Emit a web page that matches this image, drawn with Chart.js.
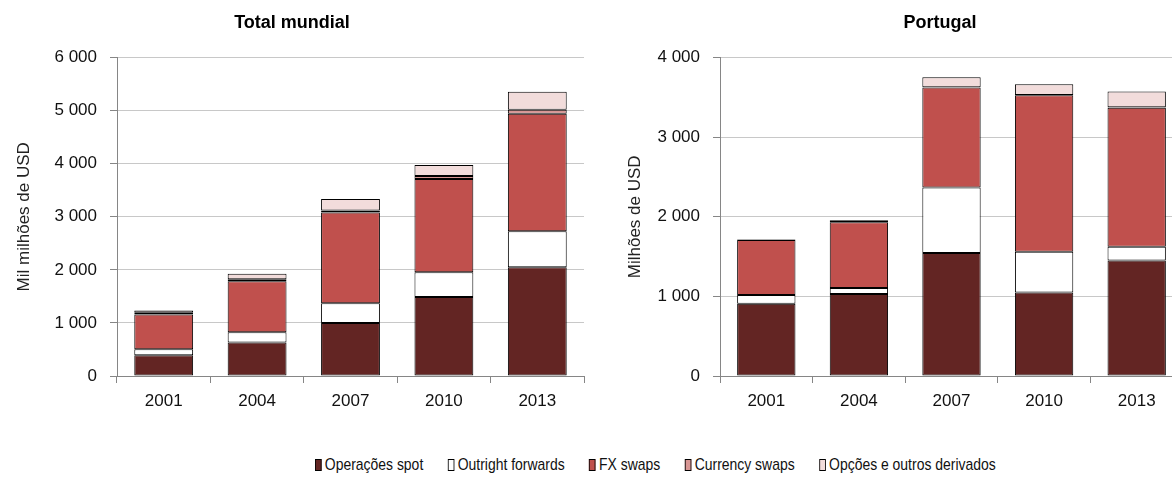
<!DOCTYPE html>
<html>
<head>
<meta charset="utf-8">
<script src="https://cdn.jsdelivr.net/npm/chart.js@4/dist/chart.umd.min.js"></script>
<style>
  html, body { margin: 0; padding: 0; background: #fff; overflow: hidden; }
  #wrap { position: relative; width: 1172px; height: 478px; overflow: hidden; }
  #c1 { position: absolute; left: 0; top: 0; }
  #c2 { position: absolute; left: 600px; top: 0; }
  #legend {
    position: absolute; left: 315px; top: 455px; display: flex; align-items: center; white-space: nowrap;
    font-family: 'Liberation Sans', Arial, sans-serif; font-size: 17px; color: #111;
    transform: scaleX(0.82); transform-origin: left center;
  }
  #legend .item { display: flex; align-items: center; margin-right: 30px; }
  #legend .box { width: 6px; height: 10px; border: 1px solid #000; margin-right: 4px; }
</style>
</head>
<body>
<div id="wrap">
  <canvas id="c1" width="600" height="430"></canvas>
  <canvas id="c2" width="680" height="430"></canvas>
  <div id="legend"></div>
</div>
<script>
// categorias e séries
const years = ['2001', '2004', '2007', '2010', '2013'];
const seriesNames = ['Operações spot', 'Outright forwards', 'FX swaps', 'Currency swaps', 'Opções e outros derivados'];
const seriesColors = ['#632523', '#ffffff', '#c0504d', '#d99694', '#f2dcdb'];

// Total mundial (mil milhões de USD)
const worldSpot = [390, 630, 1000, 1490, 2050];
const worldForwards = [115, 195, 370, 465, 680];
const worldFxSwaps = [655, 960, 1710, 1755, 2210];
const worldCurrencySwaps = [30, 38, 40, 57, 76];
const worldOptions = [45, 106, 215, 208, 340];

// Portugal (milhões de USD)
const ptSpot = [907, 1030, 1545, 1050, 1450];
const ptForwards = [110, 75, 823, 510, 175];
const ptFxSwaps = [693, 827, 1255, 1966, 1745];
const ptCurrencySwaps = [5, 15, 5, 5, 5];
const ptOptions = [3, 10, 125, 135, 200];

const worldTicks = [0, 1000, 2000, 3000, 4000, 5000, 6000];
const ptTicks = [0, 1000, 2000, 3000, 4000];

const sans = "'Liberation Sans', Arial, sans-serif";
const fmt = v => String(v).replace(/\B(?=(\d{3})+(?!\d))/g, ' ');

function makeDatasets(series) {
    return series.map((data, i) => ({
        label: seriesNames[i],
        data: data,
        backgroundColor: seriesColors[i],
        borderColor: '#000',
        borderWidth: 1,
        borderSkipped: false,
        barPercentage: 0.63,
        categoryPercentage: 1
    }));
}

function makeChart(canvas, title, series, ticks, yTitle, opts) {
    return new Chart(canvas, {
        type: 'bar',
        data: { labels: years, datasets: makeDatasets(series) },
        options: {
            responsive: false,
            animation: false,
            layout: { padding: { left: 0, right: opts.padRight, top: 0, bottom: 0 } },
            plugins: {
                legend: { display: false },
                tooltip: { enabled: false },
                title: {
                    display: true, text: title, color: '#000',
                    font: { family: sans, size: 18, weight: 'bold' },
                    padding: { top: 12, bottom: 24 }
                }
            },
            scales: {
                x: {
                    stacked: true,
                    afterFit: s => { s.height = 54; },
                    grid: { display: true, drawOnChartArea: false, offset: true, tickLength: 7, color: '#868686' },
                    border: { display: true, color: '#868686' },
                    ticks: { color: '#111', padding: 8, font: { family: sans, size: 17 } }
                },
                y: {
                    stacked: true,
                    min: ticks[0], max: ticks[ticks.length - 1],
                    afterBuildTicks: s => { s.ticks = ticks.map(v => ({ value: v })); },
                    afterFit: s => { s.width = opts.yWidth; },
                    grid: { color: '#c8c8c8', tickLength: 7, tickColor: '#868686' },
                    border: { display: true, color: '#868686' },
                    ticks: { color: '#111', padding: 13, font: { family: sans, size: 17 }, callback: v => fmt(v) },
                    title: {
                        display: true, text: yTitle, color: '#222',
                        font: { family: sans, size: 17 },
                        padding: { top: opts.yTitlePad, bottom: 0 }
                    }
                },
                // eixo vazio à direita, só para centrar o título como no original
                spacer: {
                    position: 'right', display: opts.spacer > 0,
                    grid: { display: false }, border: { display: false }, ticks: { display: false },
                    afterFit: s => { s.width = opts.spacer; }
                }
            }
        }
    });
}

makeChart(document.getElementById('c1'), 'Total mundial',
    [worldSpot, worldForwards, worldFxSwaps, worldCurrencySwaps, worldOptions],
    worldTicks, 'Mil milhões de USD', { padRight: 16, yWidth: 117, yTitlePad: 14, spacer: 0 });

makeChart(document.getElementById('c2'), 'Portugal',
    [ptSpot, ptForwards, ptFxSwaps, ptCurrencySwaps, ptOptions],
    ptTicks, 'Milhões de USD', { padRight: 0, yWidth: 120, yTitlePad: 25, spacer: 97 });

// legenda comum
document.getElementById('legend').innerHTML = seriesNames.map((name, i) => `
    <div class="item"><span class="box" style="background:${seriesColors[i]}"></span><span>${name}</span></div>
`).join('');
</script>
</body>
</html>
